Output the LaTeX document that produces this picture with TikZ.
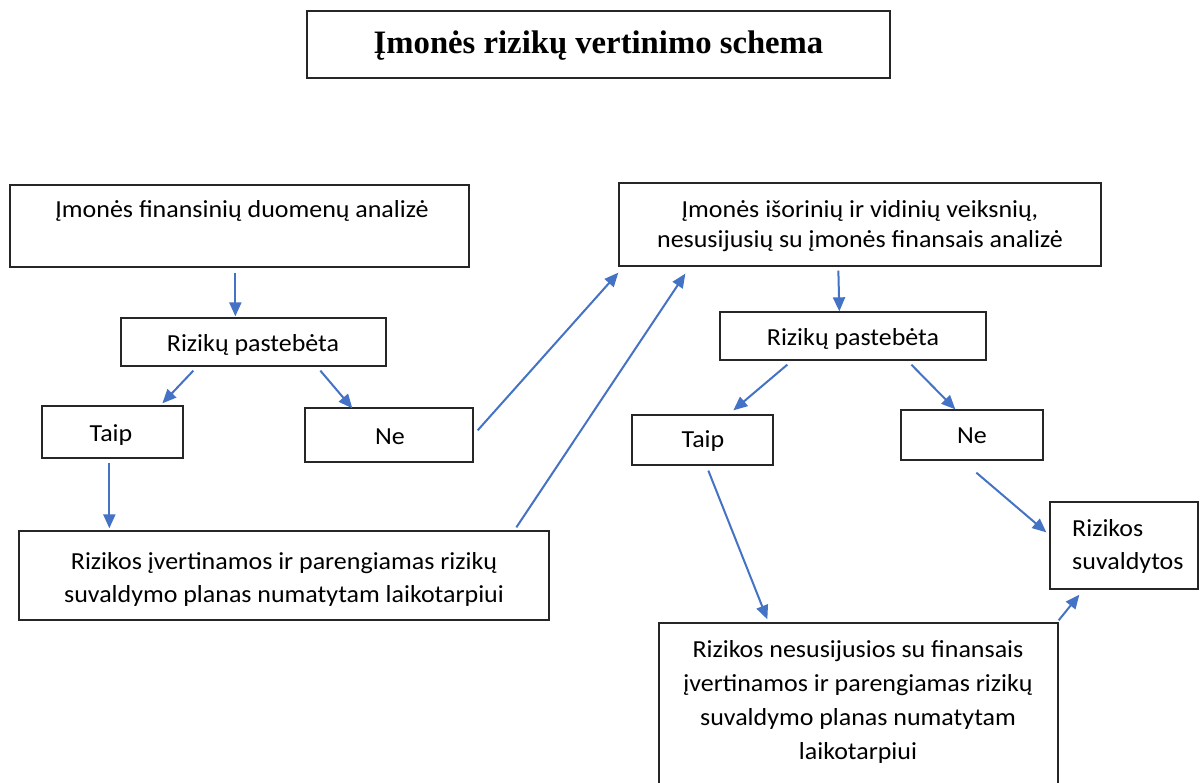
\documentclass[tikz,border=0pt]{standalone}
\usepackage{fontspec}
\setmainfont{Carlito}[FakeStretch=1.06]
\newfontfamily\titlefont{Liberation Serif}
\usetikzlibrary{arrows.meta,calc}
\definecolor{arrblue}{HTML}{4472C4}
\definecolor{boxline}{HTML}{262626}
\tikzset{
  box/.style={draw=boxline, line width=1.3pt, rectangle, inner sep=0pt},
  lbl/.style={font=\fontsize{24.5}{34}\selectfont, inner sep=0pt, anchor=base},
  mlbl/.style={font=\fontsize{24.5}{34}\selectfont, inner sep=0pt, align=center},
  arr/.style={draw=arrblue, line width=2pt, -{Triangle[length=14pt,width=12pt]}},
}
\begin{document}
\begin{tikzpicture}[x=1pt,y=-1pt]
\useasboundingbox (0,0) rectangle (1201,783);
% title
\node[box, minimum width=583pt, minimum height=67pt] (T) at (598.5,44.5) {};
\node[inner sep=0pt, anchor=base, font=\titlefont\bfseries\fontsize{32.7}{38}\selectfont] (Tt) at (598.5,54) {Įmonės rizikų vertinimo schema};
% left column
\node[box, minimum width=459pt, minimum height=82pt] (A) at (239.5,226) {};
\node[lbl] (At) at (242,218) {Įmonės finansinių duomenų analizė};
\node[box, minimum width=265pt, minimum height=48pt] (B) at (253.5,342) {};
\node[lbl] (Bt) at (253,351) {Rizikų pastebėta};
\node[box, minimum width=141pt, minimum height=52pt] (C) at (112.5,432) {};
\node[lbl] (Ct) at (111,441) {Taip};
\node[box, minimum width=168pt, minimum height=54pt] (D) at (389,435) {};
\node[lbl] (Dt) at (390,444) {Ne};
\node[box, minimum width=530pt, minimum height=89pt] (E) at (284,575.5) {};
\node[mlbl, font=\fontsize{24.5}{33}\selectfont] (Et) at (284,579) {Rizikos įvertinamos ir parengiamas rizikų\\suvaldymo planas numatytam laikotarpiui};
% right column
\node[box, minimum width=482pt, minimum height=83pt] (F) at (860,224.5) {};
\node[mlbl, font=\fontsize{24.5}{30}\selectfont] (Ft) at (860,226.5) {Įmonės išorinių ir vidinių veiksnių,\\nesusijusių su įmonės finansais analizė};
\node[box, minimum width=266pt, minimum height=48pt] (G) at (853,336) {};
\node[lbl] (Gt) at (853,345) {Rizikų pastebėta};
\node[box, minimum width=141pt, minimum height=50pt] (H) at (702.5,440) {};
\node[lbl] (Ht) at (703,447) {Taip};
\node[box, minimum width=142pt, minimum height=50pt] (I) at (972,435) {};
\node[lbl] (It) at (972,443) {Ne};
\node[box, minimum width=148pt, minimum height=87pt] (J) at (1124,545.5) {};
\node[mlbl, align=left, anchor=west, font=\fontsize{24.5}{33}\selectfont] (Jt) at (1072,546) {Rizikos\\suvaldytos};
\node[box, minimum width=399pt, minimum height=180pt] (K) at (858.5,713) {};
\node[mlbl, font=\fontsize{24.5}{34}\selectfont] (Kt) at (858,701.5) {Rizikos nesusijusios su finansais\\įvertinamos ir parengiamas rizikų\\suvaldymo planas numatytam\\laikotarpiui};
% connectors
\draw[arr] ($(A.south west)+(226,5)$) -- ($(B.north west)+(115,-1)$);
\draw[arr] ($(B.south west)+(73,4)$) -- ($(C.north west)+(121,-2)$);
\draw[arr] ($(B.south west)+(200,4)$) -- ($(D.north west)+(48,1)$);
\draw[arr] ($(D.north east)+(4,23)$) -- ($(F.south west)+(0,6)$);
\draw[arr] ($(E.north west)+(498,-3)$) -- ($(F.south west)+(67,7)$);
\draw[arr] ($(C.south west)+(68,4)$) -- ($(E.north west)+(91,-2)$);
\draw[arr] ($(F.south west)+(220,4)$) -- ($(G.north west)+(120,0)$);
\draw[arr] ($(G.south west)+(68,4)$) -- ($(H.north west)+(102,-4)$);
\draw[arr] ($(G.south west)+(192,4)$) -- ($(I.north west)+(55,0)$);
\draw[arr] ($(H.south west)+(77,5)$) -- ($(K.north west)+(109,-3)$);
\draw[arr] ($(I.south west)+(76,12)$) -- ($(J.north west)+(-3,31)$);
\draw[arr] ($(K.north east)+(0,-2)$) -- ($(J.south west)+(30,5)$);
\end{tikzpicture}
\end{document}
